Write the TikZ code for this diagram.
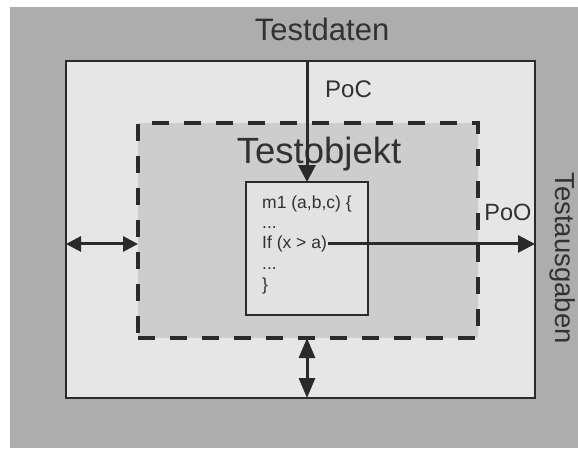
\documentclass[tikz,border=0pt]{standalone}
\usepackage{fontspec}
\setmainfont{Liberation Sans}
\usetikzlibrary{arrows.meta}
\definecolor{bgc}{HTML}{ADADAD}
\definecolor{outerfill}{HTML}{E6E6E6}
\definecolor{dashfill}{HTML}{CDCDCD}
\definecolor{codefill}{HTML}{E2E2E2}
\definecolor{linec}{HTML}{2A2A2A}
\definecolor{textc}{HTML}{323232}
\tikzset{
  outerbox/.style={draw=linec, line width=2pt, fill=outerfill, inner sep=0pt, outer sep=0pt, minimum width=469pt, minimum height=337pt},
  dashbox/.style={draw=linec, line width=3.5pt, dash pattern=on 17pt off 15pt, fill=dashfill, inner sep=0pt, outer sep=0pt, minimum width=340pt, minimum height=215pt},
  codebox/.style={draw=linec, line width=1.5pt, fill=codefill, inner sep=0pt, outer sep=0pt, minimum width=122pt, minimum height=133pt},
  lbl/.style={text=textc, inner sep=0pt, anchor=base},
  codeline/.style={text=textc, inner sep=0pt, anchor=base west, font=\fontsize{17.5}{20}\selectfont},
  arr/.style={draw=linec, line width=3pt, -{Triangle[length=17pt,width=17pt]}},
  darr/.style={draw=linec, line width=3pt, {Triangle[length=15pt,width=15pt]}-{Triangle[length=15pt,width=15pt]}},
  varr/.style={draw=linec, line width=3pt, {Triangle[length=20pt,width=16pt]}-{Triangle[length=20pt,width=16pt]}},
}
\begin{document}
\begin{tikzpicture}[x=1pt,y=-1pt]
\useasboundingbox (0,0) rectangle (578,448);
\fill[white] (0,0) rectangle (578,448);
\fill[bgc] (10,7) rectangle (578,448);
\node[outerbox] (outer) at (300.5,229.5) {};
\node[dashbox] (dash) at (308,230.5) {};
\node[codebox] (code) at (307,248.5) {};
\node[lbl, font=\fontsize{31}{36}\selectfont] (testdaten) at (322,40) {Testdaten};
\node[lbl, font=\fontsize{24}{28}\selectfont] (poc) at (348.5,97) {PoC};
\node[lbl, font=\fontsize{36.5}{42}\selectfont] (testobjekt) at (319,163) {Testobjekt};
\node[lbl, font=\fontsize{23.5}{28}\selectfont] (poo) at (508,220) {PoO};
\node[lbl, font=\fontsize{27.5}{32}\selectfont, rotate=-90] (testausgaben) at (555,258) {Testausgaben};
\node[codeline] (l1) at (262,208) {m1 (a,b,c) \{};
\node[codeline] (l2) at (262,228) {...};
\node[codeline] (l3) at (262,248.5) {If (x > a)};
\node[codeline] (l4) at (262,269) {...};
\node[codeline] (l5) at (262,290) {\}};
\draw[arr] (outer.north -| code.north) -- (code.north);
\draw[arr] ([xshift=1pt]l3.east) -- (l3.east -| outer.east);
\draw[darr] (outer.west |- l3.east) -- (dash.west |- l3.east);
\draw[varr] (dash.south -| code.south) -- (outer.south -| code.south);
\end{tikzpicture}
\end{document}
